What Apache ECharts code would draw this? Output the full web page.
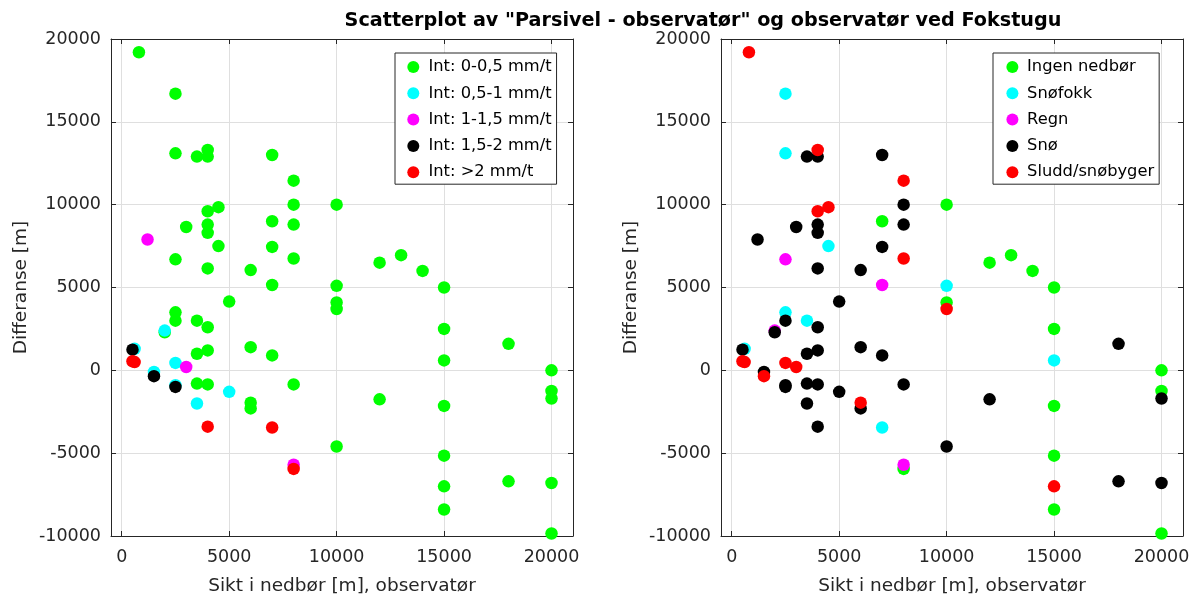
<!DOCTYPE html>
<html><head><meta charset="utf-8">
<script src="https://cdn.jsdelivr.net/npm/echarts@6/dist/echarts.min.js"></script>
<style>html,body{margin:0;padding:0;background:#fff}#c{width:1195px;height:601px}</style>
</head><body><div id="c"></div>
<script>
// Data
const sikt = [800,2500,2500,3500,4000,4000,7000,8000,8000,10000,4500,4000,3000,4000,4000,1200,7000,8000,4500,7000,2500,8000,4000,6000,7000,10000,12000,13000,14000,15000,5000,10000,10000,2500,2500,3500,4000,2000,2000,500,600,500,600,1500,1500,2500,3000,2500,2500,3500,4000,6000,7000,3500,4000,5000,3500,6000,6000,7000,4000,8000,10000,8000,8000,15000,18000,15000,20000,20000,20000,12000,15000,15000,18000,20000,15000,15000,20000];
const differanse = [19200,16700,13100,12900,13300,12900,13000,11450,10000,10000,9850,9600,8650,8800,8300,7900,9000,8800,7500,7450,6700,6750,6150,6050,5150,5100,6500,6950,6000,5000,4150,4100,3700,3500,3000,3000,2600,2400,2300,1250,1300,550,500,-100,-350,450,200,-1000,-900,1000,1200,1400,900,-800,-850,-1300,-2000,-1950,-2300,-3450,-3400,-850,-4600,-5700,-5950,2500,1600,600,0,-1250,-1700,-1750,-2150,-5150,-6700,-6800,-7000,-8400,-9850];
// class index into intensitetNavn (left plot) and vaerNavn (right plot)
const intensitetKlasse = [0,0,0,0,0,0,0,0,0,0,0,0,0,0,0,2,0,0,0,0,0,0,0,0,0,0,0,0,0,0,0,0,0,0,0,0,0,1,0,3,1,4,4,1,3,1,2,3,1,0,0,0,0,0,0,1,1,0,0,4,4,0,0,2,4,0,0,0,0,0,0,0,0,0,0,0,0,0,0];
const vaerKlasse = [4,1,1,3,4,3,3,4,3,0,4,4,3,3,3,3,0,3,1,3,2,4,3,3,2,1,0,0,0,0,3,0,4,1,3,1,3,2,3,3,1,4,4,3,4,4,4,3,3,3,3,3,3,3,3,3,3,4,3,1,3,3,3,2,0,0,3,1,0,0,3,3,0,0,3,3,4,0,0];
const intensitetNavn = ['Int: 0-0,5 mm/t','Int: 0,5-1 mm/t','Int: 1-1,5 mm/t','Int: 1,5-2 mm/t','Int: >2 mm/t'];
const vaerNavn = ['Ingen nedbør','Snøfokk','Regn','Snø','Sludd/snøbyger'];
const farger = ['#00ff00','#00ffff','#ff00ff','#000000','#ff0000'];
const tittel = 'Scatterplot av "Parsivel - observatør" og observatør ved Fokstugu';
const xNavn = 'Sikt i nedbør [m], observatør';
const yNavn = 'Differanse [m]';
const xMin = -500, xMax = 21000, yMin = -10000, yMax = 20000, yStep = 5000;

const FONT = 'DejaVu Sans, Liberation Sans, sans-serif';
const AX = '#262626';
const grids = [
  {left: 111, top: 39, width: 462, height: 499},
  {left: 721, top: 39, width: 462, height: 499}
];
const plain = v => String(v);
const xAxes = [], yAxes = [];
grids.forEach((g, i) => {
  xAxes.push({
    type: 'value', gridIndex: i, position: 'bottom', min: xMin, max: xMax,
    name: xNavn, nameLocation: 'middle', nameGap: 41,
    nameTextStyle: {fontFamily: FONT, fontSize: 18.5, color: AX},
    axisLine: {show: true, onZero: false, lineStyle: {color: AX, width: 1}},
    axisTick: {show: true, inside: true, length: 5, lineStyle: {color: AX}},
    axisLabel: {fontFamily: FONT, fontSize: 17.5, color: AX, margin: 12, formatter: plain, showMinLabel: false, showMaxLabel: false},
    splitLine: {show: true, lineStyle: {color: '#dfdfdf', width: 1}}
  });
  xAxes.push({
    type: 'value', gridIndex: i, position: 'top', min: xMin, max: xMax,
    axisLine: {show: true, onZero: false, lineStyle: {color: AX, width: 1}},
    axisTick: {show: true, inside: true, length: 5, lineStyle: {color: AX}},
    axisLabel: {show: false}, splitLine: {show: false}
  });
  yAxes.push({
    type: 'value', gridIndex: i, position: 'left', min: yMin, max: yMax, interval: yStep,
    name: yNavn, nameLocation: 'middle', nameGap: 80, nameRotate: 90,
    nameTextStyle: {fontFamily: FONT, fontSize: 18.5, color: AX},
    axisLine: {show: true, onZero: false, lineStyle: {color: AX, width: 1}},
    axisTick: {show: true, inside: true, length: 5, lineStyle: {color: AX}},
    axisLabel: {fontFamily: FONT, fontSize: 17.5, color: AX, margin: 10, formatter: plain},
    splitLine: {show: true, lineStyle: {color: '#dfdfdf', width: 1}}
  });
  yAxes.push({
    type: 'value', gridIndex: i, position: 'right', min: yMin, max: yMax, interval: yStep,
    axisLine: {show: true, onZero: false, lineStyle: {color: AX, width: 1}},
    axisTick: {show: true, inside: true, length: 5, lineStyle: {color: AX}},
    axisLabel: {show: false}, splitLine: {show: false}
  });
});

function byggSerier(klasser, navn, panel) {
  return navn.map((n, k) => ({
    type: 'scatter', name: n, xAxisIndex: panel * 2, yAxisIndex: panel * 2,
    symbol: 'circle', symbolSize: 12.5,
    itemStyle: {color: farger[k], opacity: 1},
    emphasis: {disabled: true},
    data: sikt.map((x, j) => [x, differanse[j], klasser[j]]).filter(p => p[2] === k).map(p => [p[0], p[1]])
  }));
}
const series = byggSerier(intensitetKlasse, intensitetNavn, 0).concat(byggSerier(vaerKlasse, vaerNavn, 1));

const legendBase = {
  orient: 'vertical', icon: 'circle', itemHeight: 12, itemGap: 6.3,
  backgroundColor: '#fff', borderColor: AX, borderWidth: 1,
  textStyle: {fontFamily: FONT, fontSize: 16.3, color: '#000', lineHeight: 20},
  selectedMode: false
};
const chart = echarts.init(document.getElementById('c'), null, {renderer: 'canvas'});
chart.setOption({
  animation: false,
  backgroundColor: '#fff',
  title: {text: tittel, left: 698, top: 7, textAlign: 'center',
    textStyle: {fontFamily: FONT, fontSize: 19.2, fontWeight: 'bold', color: '#000'}},
  grid: grids,
  xAxis: xAxes,
  yAxis: yAxes,
  legend: [
    Object.assign({}, legendBase, {left: 395, top: 53, itemWidth: 20.4, padding: [4, 5, 2, 12.3], data: intensitetNavn}),
    Object.assign({}, legendBase, {left: 993, top: 53, itemWidth: 19.3, padding: [4, 5, 2, 13.4], data: vaerNavn})
  ],
  series: series
});
</script></body></html>
